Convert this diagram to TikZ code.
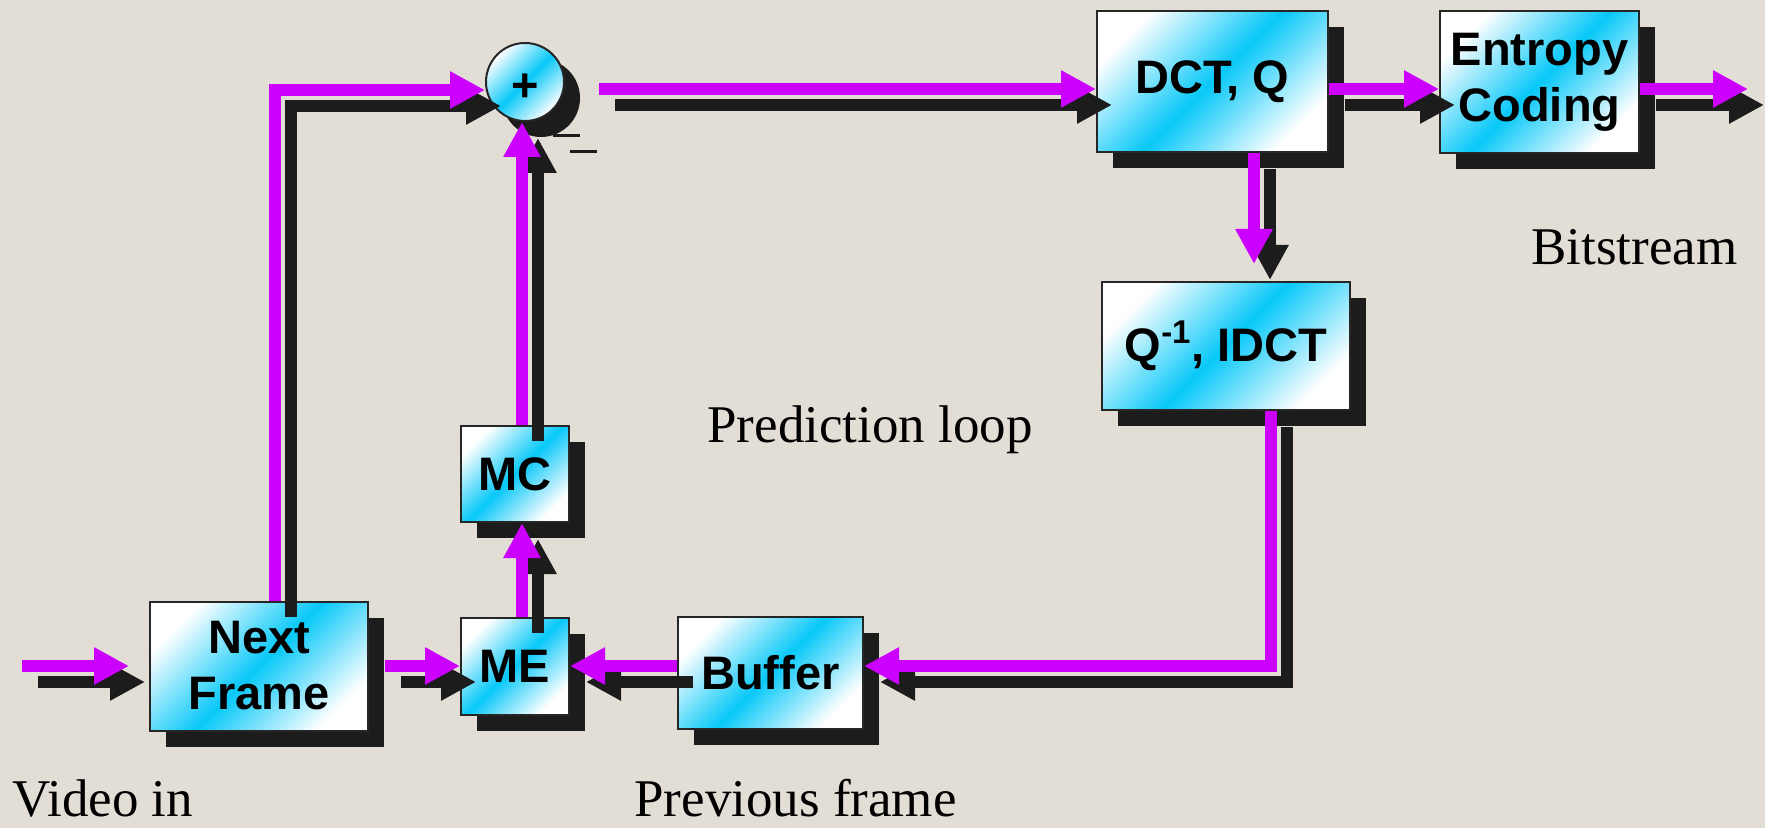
\documentclass[tikz,border=0pt]{standalone}
\usepackage{fontspec}
\setmainfont{Liberation Serif}
\setsansfont{Liberation Sans}
\usetikzlibrary{positioning, calc}
\usetikzlibrary{arrows.meta,shadows}

\definecolor{bgbeige}{RGB}{227,222,213}
\definecolor{boxcyan}{RGB}{8,200,248}
\definecolor{flowmag}{RGB}{204,0,255}
\definecolor{shadowblk}{RGB}{28,28,28}

\tikzset{
  box/.style={draw=black!85, line width=1pt, top color=white, bottom color=white,
    middle color=boxcyan, shading angle=45, inner sep=0pt, align=center,
    font=\sffamily\bfseries\fontsize{23.5}{28}\selectfont,
    drop shadow={shadow xshift=8pt, shadow yshift=-8pt, fill=shadowblk, opacity=1}},
  flow/.style={flowmag, line width=6pt, -{Triangle[length=17.5pt,width=17.5pt]}},
  flowshade/.style={flow, shadowblk, transform canvas={xshift=8pt,yshift=-8pt}},
  caption/.style={font=\fontsize{26.5}{30}\selectfont, inner sep=0pt, anchor=base west},
}

\begin{document}
\begin{tikzpicture}[x=0.5pt, y=-0.5pt]
\useasboundingbox (0,0) rectangle (1765,828);
\fill[bgbeige] (0,0) rectangle (1765,828);

\draw   (259,666) node[box, minimum width=109pt, minimum height=64.5pt](nf){Next\\Frame}
        (515,666) node[box, minimum width=54pt, minimum height=48.5pt](me){ME}
        (515,474) node[box, minimum width=54pt, minimum height=48pt](mc){MC}
        (770.5,673) node[box, minimum width=92.5pt, minimum height=56pt](buf){Buffer};
\draw   (525,82) node[box, circle, minimum size=39pt](add){\raisebox{0pt}[\dimexpr\height+6pt][\depth]{+}}
        (1212.5,81.5) node[box, minimum width=115.5pt, minimum height=70.5pt](dct){DCT, Q}
        (1539.5,82) node[box, minimum width=99.5pt, minimum height=71pt](ent){Entropy\\Coding}
        (1226,346) node[box, minimum width=124pt, minimum height=64pt](idct){Q\textsuperscript{-1}, IDCT};

\coordinate (vin) at (22,666);
\coordinate (bout) at (1748,89);
\coordinate (nfup) at ([xshift=8pt]nf.north);
\coordinate (mcx) at ([xshift=3.5pt]me.north);
\coordinate (sumout) at ([xshift=17pt,yshift=-3.5pt]add.east);
\coordinate (dq) at ([xshift=20.75pt]dct.south);
\coordinate (iq) at ([xshift=22.5pt]idct.south);

\foreach \lay in {flowshade,flow}{
  \draw[\lay] (vin) -- ($(nf.west)+(-20,0)$);
  \draw[\lay] (nfup) |- ([yshift=-4pt]add.west);
  \draw[\lay] ([xshift=8pt]nf.east) -- (me.west);
  \draw[\lay] (mcx) -- (mcx |- mc.south);
  \draw[\lay] (mcx |- mc.north) -- (mcx |- add.south);
  \draw[\lay] (sumout) -- (sumout -| dct.west);
  \draw[\lay] (sumout -| dct.east) -- (sumout -| ent.west);
  \draw[\lay] (sumout -| ent.east) -- (bout);
  \draw[\lay] (dq) -- ($(dq |- idct.north)+(0,-17)$);
  \draw[\lay] (iq) |- (buf.east |- me.east);
  \draw[\lay] (buf.west |- me.east) -- (me.east);
}
% minus sign at the summing point
\draw[shadowblk, line width=1.5pt] (553,136) -- (580,136) (570,152) -- (597,152);

\node[caption] (vidin) at (12,816) {Video in};
\node[caption] (prevf) at (634,816) {Previous frame};
\node[caption] (predloop) at (707,442) {Prediction loop};
\node[caption] (bits) at (1531,265) {Bitstream};
\end{tikzpicture}
\end{document}
